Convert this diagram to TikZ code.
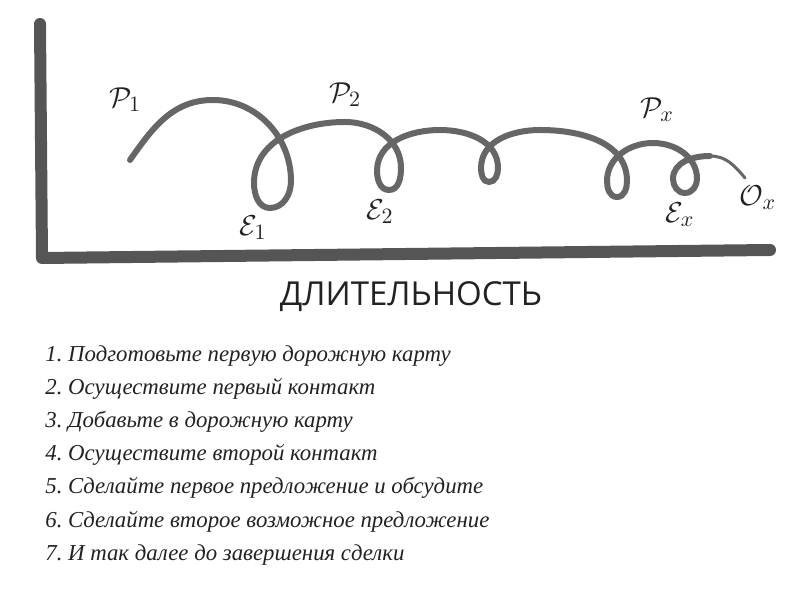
\documentclass[tikz,border=0pt]{standalone}
\usepackage{fontspec}
\setmainfont{Liberation Serif}
\newfontfamily\headfont{Open Sans}
\usetikzlibrary{positioning}

\definecolor{axisgray}{HTML}{555555}
\definecolor{loopgray}{HTML}{666666}
\definecolor{ink}{HTML}{222222}

\tikzset{
    axis/.style={line width=6pt, axisgray, line cap=round, line join=round},
    spiral/.style={line width=3pt, loopgray, line cap=round},
    tag/.style={ink, font=\fontsize{15}{17}\selectfont},
    stepline/.style={ink, anchor=base west, inner sep=0pt, font=\fontsize{11.4}{14}\selectfont\itshape}
}

\begin{document}
\begin{tikzpicture}[x=0.5pt, y=0.5pt]
        \useasboundingbox (0,0) rectangle (790,593);

        % Nodes

        \coordinate (top) at (40,569);
        \coordinate (origin) at (42,335);
        \coordinate (end) at (770,343);

        \node[tag] (p1) at (125,493) {$\mathcal{P}_{1}$};
        \node[tag] (p2) at (345,498) {$\mathcal{P}_{2}$};
        \node[tag] (px) at (657,483) {$\mathcal{P}_{x}$};
        \node[tag] (e1) at (253,365) {$\mathcal{E}_{1}$};
        \node[tag] (e2) at (380,381) {$\mathcal{E}_{2}$};
        \node[tag] (ex) at (680,378) {$\mathcal{E}_{x}$};
        \node[tag] (ox) at (758,395) {$\mathcal{O}_{x}$};

        \node[ink, font=\headfont\fontsize{16.5}{19}\selectfont] (dur) at (411,296) {ДЛИТЕЛЬНОСТЬ};

        \foreach \i/\txt in {1/Подготовьте первую дорожную карту,
                             2/Осуществите первый контакт,
                             3/Добавьте в дорожную карту,
                             4/Осуществите второй контакт,
                             5/Сделайте первое предложение и обсудите,
                             6/Сделайте второе возможное предложение,
                             7/И так далее до завершения сделки}
            \node[stepline] (s\i) at (45,{231-33*(\i-1)}) {\i.~\txt};

        % Edges

        \draw[axis] (top) -- (origin) -- (end);

        \draw[spiral] (130,433) to[out=55,in=180] (213,493)
            to[out=0,in=90] (291,412) to[out=-90,in=0] (270,385)
            to[out=180,in=-90] (254,410) to[out=90,in=180] (345,471)
            to[out=0,in=90] (401,425) to[out=-90,in=0] (389,403)
            to[out=180,in=-90] (377,422) to[out=90,in=180] (440,463)
            to[out=0,in=90] (498,425) to[out=-90,in=0] (489,411)
            to[out=180,in=-90] (481,425) to[out=90,in=180] (540,463)
            to[out=0,in=90] (627,412) to[out=-90,in=0] (617,396)
            to[out=180,in=-90] (607,412) to[out=90,in=180] (653,450)
            to[out=0,in=90] (697,414) to[out=-90,in=0] (685,400)
            to[out=180,in=-90] (673,414) to[out=90,in=180] (710,437);
        \draw[spiral, line width=1.5pt] (710,437) to[out=0,in=130] (745,415);

\end{tikzpicture}
\end{document}
